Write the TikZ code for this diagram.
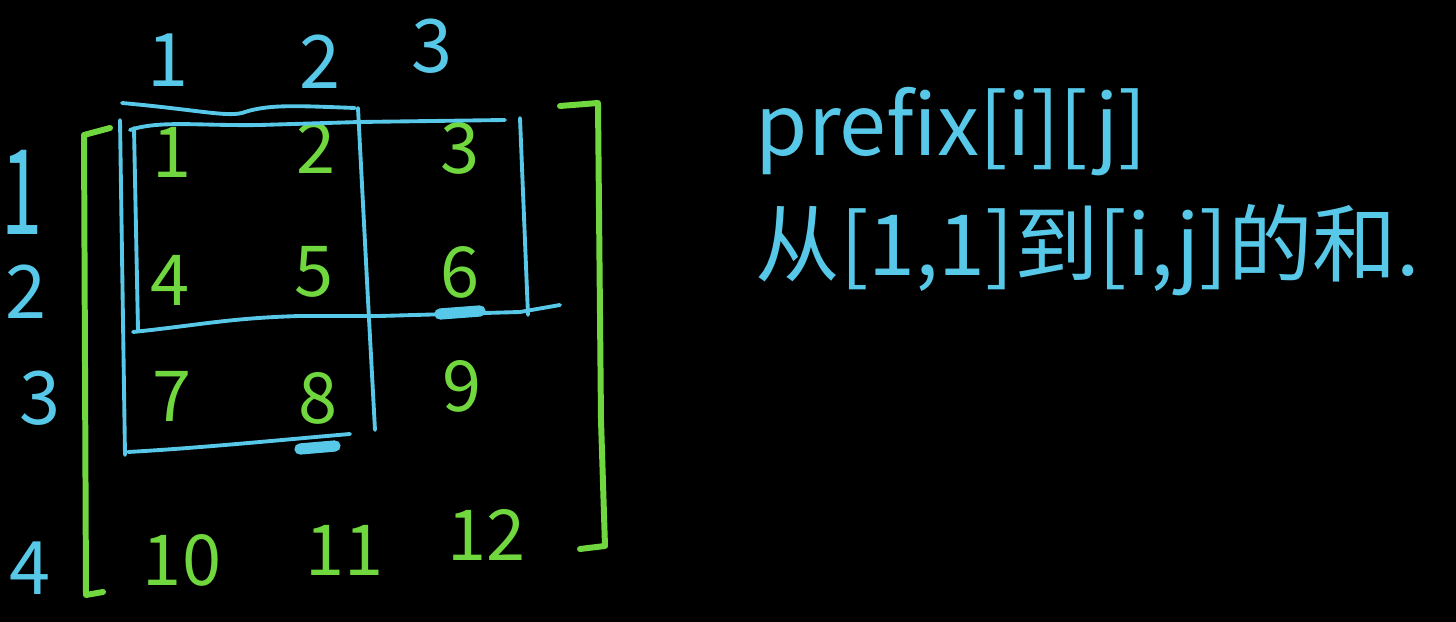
\documentclass[tikz,border=0pt]{standalone}
\usepackage{fontspec}
\newfontfamily\cjk{Noto Sans CJK SC}
\definecolor{chalkcyan}{RGB}{88,200,232}
\definecolor{chalkgreen}{RGB}{112,216,62}
\begin{document}
\begin{tikzpicture}[
        x=0.01cm, y=-0.01cm,
        entry/.style={
          text=chalkgreen,
          inner sep=0pt,
          font=\cjk\fontsize{20}{20}\selectfont
        },
        index/.style={
          text=chalkcyan,
          inner sep=0pt,
          font=\cjk\fontsize{21}{21}\selectfont
        },
        note/.style={
          text=chalkcyan,
          anchor=west,
          inner sep=0pt,
          font=\cjk\fontsize{24}{28}\selectfont
        },
        stroke/.style={
          draw=chalkcyan,
          line width=1.1pt,
          line cap=round,
          line join=round
        },
        bracket/.style={
          draw=chalkgreen,
          line width=1.7pt,
          line cap=round,
          line join=round
        }
      ]
      \fill[black] (0,0) rectangle (1456,622);
      \useasboundingbox (0,0) rectangle (1456,622);

      % column and row indices
      \node[index] (col1) at (168,60) {1};
      \node[index] (col2) at (320,62) {2};
      \node[index] (col3) at (432,46) {3};
      \node[index, yscale=1.6] (row1) at (22,192) {1};
      \node[index] (row2) at (26,292) {2};
      \node[index] (row3) at (40,398) {3};
      \node[index] (row4) at (30,568) {4};

      % matrix entries
      \node[entry] (m11) at (172,152) {1};
      \node[entry] (m12) at (316,148) {2};
      \node[entry] (m13) at (460,148) {3};
      \node[entry] (m21) at (170,280) {4};
      \node[entry] (m22) at (314,272) {5};
      \node[entry] (m23) at (460,272) {6};
      \node[entry] (m31) at (172,396) {7};
      \node[entry] (m32) at (318,398) {8};
      \node[entry] (m33) at (462,386) {9};
      \node[entry] (m41) at (182,560) {10};
      \node[entry] (m42) at (345,550) {11};
      \node[entry] (m43) at (487,535) {12};

      % brackets
      \draw[bracket] (110,128) -- (84,135) -- (86,595) -- (103,592);
      \draw[bracket] (560,106) -- (598,103) -- (601,420) -- (605,546) -- (580,549);

      % prefix regions
      \draw[stroke] (122,103) .. controls (200,110) and (230,118) .. (245,112)
        .. controls (270,104) and (300,106) .. (355,108);
      \draw[stroke] (130,130) .. controls (160,120) and (200,126) .. (260,125)
        -- (360,122) -- (505,120);
      \draw[stroke] (120,120) -- (125,455);
      \draw[stroke] (134,128) -- (138,330);
      \draw[stroke] (358,108) -- (368,300) -- (375,430);
      \draw[stroke] (520,118) -- (528,315);
      \draw[stroke] (133,332) .. controls (200,325) and (230,318) .. (300,316)
        -- (380,316) -- (520,312) -- (560,305);
      \draw[stroke] (128,452) .. controls (200,448) and (280,440) .. (350,434);
      \draw[draw=chalkcyan, line width=3.2pt, line cap=round] (440,314) -- (480,311);
      \draw[draw=chalkcyan, line width=3.2pt, line cap=round] (300,449) -- (335,446);

      % explanation
      \node[note] (def) at (755,132) {prefix[i][j]};
      \node[note] (meaning) at (755,250) {从[1,1]到[i,j]的和.};
    \end{tikzpicture}
\end{document}
